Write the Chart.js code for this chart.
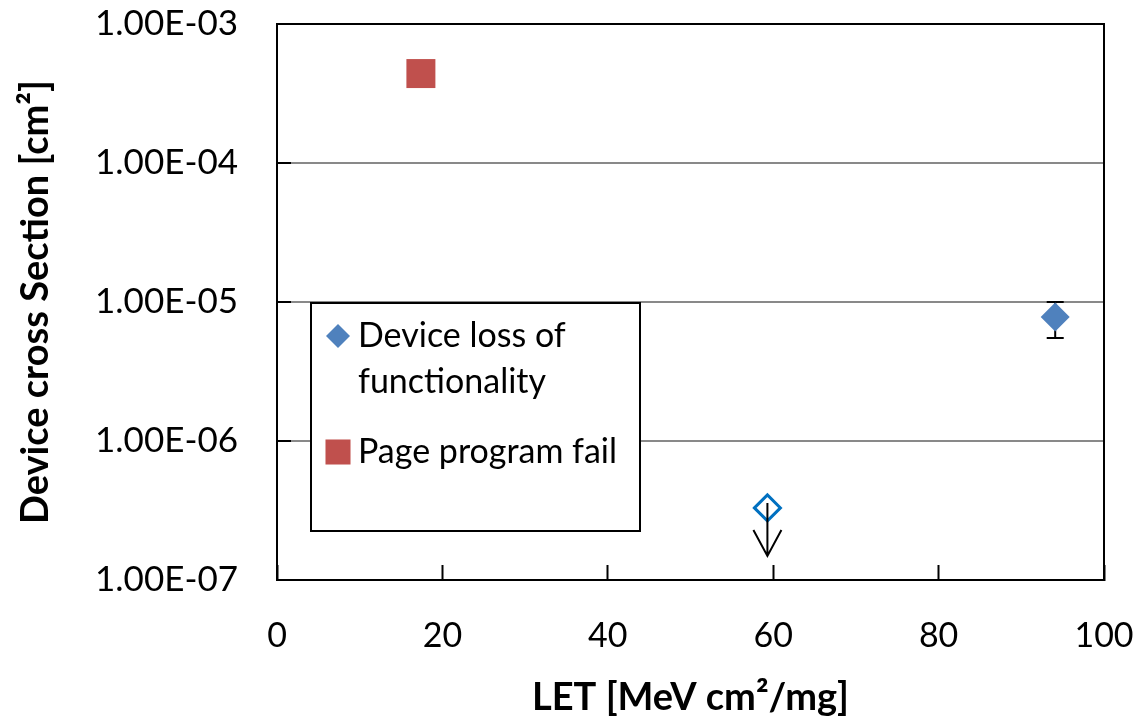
<!DOCTYPE html>
<html><head><meta charset="utf-8">
<script src="https://cdn.jsdelivr.net/npm/chart.js@4.4.1/dist/chart.umd.min.js"></script>
<style>html,body{margin:0;padding:0;background:#fff;} canvas{display:block;}</style>
</head><body>
<canvas id="c" width="1137" height="721"></canvas>
<script>
// ---- data ----
const seriesNames = ['Device loss of functionality', 'Page program fail'];
const lossLET = [94.1];            // Device loss of functionality (measured)
const lossXS = [7.8e-6];
const lossErrLow = [5.5e-6];
const lossErrHigh = [1.0e-5];
const limitLET = [59.3];           // Device loss of functionality (upper limit, no event)
const limitXS = [3.3e-7];
const pageLET = [17.4];            // Page program fail
const pageXS = [4.4e-4];
const xTickValues = [0, 20, 40, 60, 80, 100];
const yTickValues = [1e-7, 1e-6, 1e-5, 1e-4, 1e-3];
const yTickLabels = ['1.00E-07', '1.00E-06', '1.00E-05', '1.00E-04', '1.00E-03'];
const xTitle = 'LET [MeV cm\u00B2/mg]';
const yTitle = 'Device cross Section [cm\u00B2]';

Chart.defaults.font.family = 'Lato';
Chart.defaults.color = '#000';

const chartBorder = {
  id: 'chartBorder',
  afterDraw(chart) {
    const {ctx, chartArea: a} = chart;
    ctx.save();
    ctx.strokeStyle = '#000';
    ctx.lineWidth = 2;
    ctx.strokeRect(a.left, a.top, a.right - a.left, a.bottom - a.top);
    ctx.restore();
  }
};

const errorBars = {
  id: 'errorBars',
  beforeDatasetsDraw(chart) {
    const {ctx, scales: {x, y}} = chart;
    ctx.save();
    ctx.strokeStyle = '#000';
    ctx.lineWidth = 2;
    lossLET.forEach((v, i) => {
      const px = x.getPixelForValue(v);
      const y1 = y.getPixelForValue(lossErrHigh[i]);
      const y2 = y.getPixelForValue(lossErrLow[i]);
      ctx.beginPath();
      ctx.moveTo(px, y1); ctx.lineTo(px, y2);
      ctx.moveTo(px - 8.5, y1); ctx.lineTo(px + 8.5, y1);
      ctx.moveTo(px - 8.5, y2); ctx.lineTo(px + 8.5, y2);
      ctx.stroke();
    });
    ctx.restore();
  }
};

const limitArrows = {
  id: 'limitArrows',
  afterDatasetsDraw(chart) {
    const {ctx, scales: {x, y}} = chart;
    ctx.save();
    ctx.strokeStyle = '#000';
    ctx.lineWidth = 2;
    limitLET.forEach((v, i) => {
      const px = x.getPixelForValue(v);
      const py = y.getPixelForValue(limitXS[i]);
      const tip = py + 48;
      ctx.beginPath();
      ctx.moveTo(px, py - 5); ctx.lineTo(px, tip);
      ctx.moveTo(px - 14, tip - 26); ctx.lineTo(px, tip); ctx.lineTo(px + 14, tip - 26);
      ctx.stroke();
    });
    ctx.restore();
  }
};

const boxLegend = {
  id: 'boxLegend',
  afterDraw(chart, args, opts) {
    const {ctx} = chart;
    const b = opts.box;
    ctx.save();
    ctx.fillStyle = '#fff';
    ctx.fillRect(b.left, b.top, b.right - b.left, b.bottom - b.top);
    ctx.strokeStyle = '#000';
    ctx.lineWidth = 2;
    ctx.strokeRect(b.left, b.top, b.right - b.left, b.bottom - b.top);
    ctx.font = opts.font;
    ctx.textBaseline = 'middle';
    ctx.textAlign = 'left';
    let yy = opts.firstY;
    opts.items.forEach(item => {
      const ds = chart.data.datasets[item.dataset];
      ctx.fillStyle = ds.backgroundColor;
      Chart.helpers.drawPoint(ctx, {pointStyle: ds.pointStyle, rotation: 0, radius: item.radius, borderWidth: 0}, opts.markerX, yy);
      ctx.fillStyle = '#000';
      const words = ds.label.split(' ');
      const lines = [];
      let cur = '';
      words.forEach(w => {
        const t = cur ? cur + ' ' + w : w;
        if (ctx.measureText(t).width > opts.maxTextWidth && cur) { lines.push(cur); cur = w; }
        else cur = t;
      });
      if (cur) lines.push(cur);
      lines.forEach((ln, k) => ctx.fillText(ln, opts.textX, yy + k * opts.lineHeight));
      yy += lines.length * opts.lineHeight + opts.itemGap;
    });
    ctx.restore();
  }
};

new Chart(document.getElementById('c'), {
  type: 'scatter',
  data: {
    datasets: [
      {
        label: seriesNames[0],
        data: lossLET.map((v, i) => ({x: v, y: lossXS[i]})),
        pointStyle: 'rectRot', pointRadius: 14.5, pointHoverRadius: 14.5,
        backgroundColor: '#4F81BD', borderColor: '#4F81BD', borderWidth: 0
      },
      {
        label: seriesNames[0] + ' (upper limit)',
        data: limitLET.map((v, i) => ({x: v, y: limitXS[i]})),
        pointStyle: 'rectRot', pointRadius: 13, pointHoverRadius: 13,
        backgroundColor: 'rgba(255,255,255,0)', borderColor: '#0070C0', borderWidth: 3
      },
      {
        label: seriesNames[1],
        data: pageLET.map((v, i) => ({x: v, y: pageXS[i]})),
        pointStyle: 'rect', pointRadius: 20.5, pointHoverRadius: 20.5,
        backgroundColor: '#C0504D', borderColor: '#C0504D', borderWidth: 0
      }
    ]
  },
  options: {
    responsive: false,
    animation: false,
    layout: {padding: {left: 0, top: 24, right: 33, bottom: 0}},
    plugins: {
      legend: {display: false},
      tooltip: {enabled: false},
      boxLegend: {
        box: {left: 311, top: 303, right: 640, bottom: 531},
        font: '34px Lato',
        markerX: 338, textX: 358, firstY: 336, lineHeight: 46, itemGap: 24,
        maxTextWidth: 270,
        items: [{dataset: 0, radius: 12}, {dataset: 2, radius: 17.7}]
      }
    },
    scales: {
      x: {
        type: 'linear', min: 0, max: 100,
        afterBuildTicks: s => { s.ticks = xTickValues.map(v => ({value: v})); },
        afterFit: s => { s.height = 141; s.paddingLeft = 0; s.paddingRight = 0; },
        grid: {drawOnChartArea: false, drawTicks: true, tickLength: -15, tickColor: '#000', tickWidth: 2},
        border: {display: true, color: '#000', width: 2},
        ticks: {font: {size: 34}, padding: 51, maxRotation: 0, autoSkip: false},
        title: {display: true, text: xTitle, font: {size: 38, weight: 'bold'}, padding: {top: 0, bottom: 0}}
      },
      y: {
        type: 'logarithmic', min: 1e-7, max: 1e-3,
        afterBuildTicks: s => { s.ticks = yTickValues.map(v => ({value: v})); },
        afterFit: s => { s.width = 277; s.paddingTop = 0; s.paddingBottom = 0; },
        grid: {color: '#898989', lineWidth: 2, drawTicks: true, tickLength: -14, tickColor: '#000', tickWidth: 2},
        border: {display: true, color: '#000', width: 2},
        ticks: {font: {size: 35}, padding: 53, autoSkip: false,
          callback: (v, i) => yTickLabels[i]},
        title: {display: true, text: yTitle, font: {size: 38, weight: 'bold'}, padding: {top: 13, bottom: 0}}
      }
    }
  },
  plugins: [errorBars, limitArrows, chartBorder, boxLegend]
});
</script>
</body></html>
